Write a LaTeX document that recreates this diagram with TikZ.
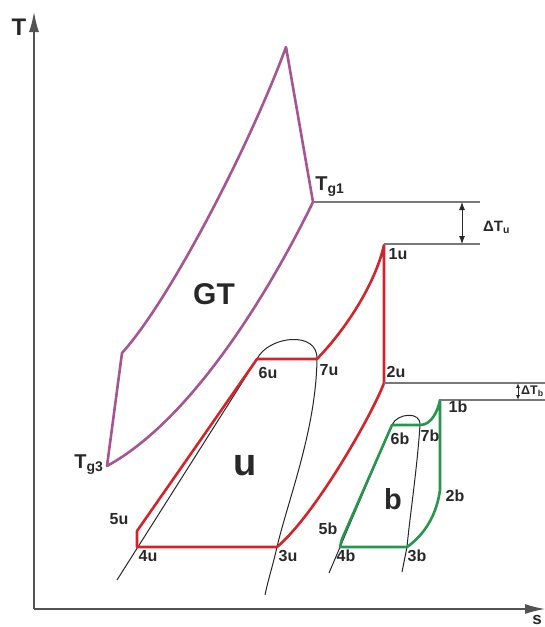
\documentclass[tikz,border=0pt]{standalone}
\usepackage{fontspec}
\setmainfont{Liberation Sans}
\usepackage{tikz}
\usetikzlibrary{arrows.meta}

\definecolor{gtcol}{RGB}{165,85,145}
\definecolor{ucol}{RGB}{212,36,42}
\definecolor{bcol}{RGB}{38,150,76}
\definecolor{txt}{RGB}{40,40,40}
\definecolor{lin}{RGB}{120,120,120}

\begin{document}
\begin{tikzpicture}[
  x=1pt, y=-1pt,
  lab/.style={font=\fontsize{16}{16}\bfseries\selectfont, text=txt, inner sep=0pt},
  big/.style={font=\fontsize{30}{30}\bfseries\selectfont, text=txt, inner sep=0pt},
  cyc/.style={line width=2.6pt, line join=round},
  sat/.style={black!85, line width=1pt},
  axis/.style={txt!80, line width=1.4pt, -{Latex[length=20pt,width=10pt]}},
  lvl/.style={lin, line width=1.1pt},
  dbl/.style={txt, line width=0.9pt, {Latex[length=8pt,width=6pt]}-{Latex[length=8pt,width=6pt]}},
]
\useasboundingbox (0,0) rectangle (545,627);

\coordinate (o) at (34,609);
\coordinate (ttip) at (34,12);
\coordinate (stip) at (545,609);
\draw[axis] (o) -- (ttip);
\draw[axis] (o) -- (stip);
\node[font=\fontsize{24}{24}\bfseries\selectfont, text=txt, inner sep=0pt] (tlab) at (19,27) {T};
\node[font=\fontsize{17}{17}\bfseries\selectfont, text=txt, inner sep=0pt, anchor=north] (slab) at (537,615) {s};

\coordinate (g1) at (313,202);
\coordinate (g3) at (107,466);
\coordinate (g0) at (122,353);
\coordinate (gtop) at (286,47);
\draw[cyc, gtcol] (g1) .. controls (280,270) and (200,415) .. (g3) -- (g0)
  .. controls (170,300) and (250,145) .. (gtop) -- cycle;

\coordinate (u1) at (384,245);
\coordinate (u2) at (384,383);
\coordinate (u3) at (277,547);
\coordinate (u4) at (137,547);
\coordinate (u5) at (137,531);
\coordinate (u6) at (257,359);
\coordinate (u7) at (317,359);
\coordinate (ul) at (117,580);
\coordinate (ur) at (265,595);
\draw[sat] (ul) -- (u6) .. controls (268,336) and (318,330) .. (u7)
  .. controls (316,430) and (288,500) .. (u3) .. controls (273,565) and (268,580) .. (ur);
\draw[cyc, ucol] (u7) .. controls (345,330) and (375,285) .. (u1) -- (u2)
  .. controls (372,415) and (315,515) .. (u3) -- (u4) -- (u5) -- (u6) -- cycle;

\coordinate (b1) at (440,400);
\coordinate (b2) at (440,490);
\coordinate (b3) at (407,547);
\coordinate (b4) at (340,547);
\coordinate (b5) at (342,539);
\coordinate (b6) at (392,425);
\coordinate (b7) at (420,425);
\coordinate (bl) at (329,573);
\coordinate (br) at (402,572);
\draw[sat] (bl) -- (b6) .. controls (397,413) and (421,411) .. (b7)
  .. controls (417,470) and (410,515) .. (b3) -- (br);
\draw[cyc, bcol] (b7) .. controls (432,425) and (438,410) .. (b1) -- (b2)
  .. controls (436,520) and (420,538) .. (b3) -- (b4) -- (b5) -- (b6) -- cycle;

\coordinate (gu) at (480,202);
\coordinate (uu) at (480,244);
\coordinate (ub) at (545,383);
\coordinate (bb) at (545,400);
\draw[lvl] (g1) -- (gu);
\draw[lvl] (u1 |- uu) -- (uu);
\draw[lvl] (u2) -- (ub);
\draw[lvl] (b1) -- (bb);
\coordinate (du1) at (462,202);
\coordinate (du2) at (462,244);
\coordinate (db1) at (518,383);
\coordinate (db2) at (518,400);
\draw[dbl] (du1) -- (du2);
\draw[dbl, {Latex[length=5pt,width=4pt]}-{Latex[length=5pt,width=4pt]}] (db1) -- (db2);
\node[font=\fontsize{15}{15}\bfseries\selectfont, text=txt, inner sep=0pt, anchor=west] (dtu) at (483,227) {ΔT\textsubscript{u}};
\node[font=\fontsize{12.5}{12.5}\bfseries\selectfont, text=txt, inner sep=0pt, anchor=west] (dtb) at (521,391) {ΔT\textsubscript{b}};

\node[font=\fontsize{20}{20}\bfseries\selectfont, text=txt, inner sep=0pt] (tg1) at (330,187) {T\textsubscript{g1}};
\node[font=\fontsize{20}{20}\bfseries\selectfont, text=txt, inner sep=0pt] (tg3) at (89,465) {T\textsubscript{g3}};
\node[big] (gt) at (214,294) {GT};
\node[big, font=\fontsize{38}{38}\bfseries\selectfont] (ulab) at (245,466) {u};
\node[big, font=\fontsize{29}{29}\bfseries\selectfont] (blab) at (393,499) {b};

\node[lab] (l1u) at (398,254) {1u};
\node[lab] (l2u) at (396,372) {2u};
\node[lab] (l3u) at (288,556) {3u};
\node[lab] (l4u) at (148,556) {4u};
\node[lab] (l5u) at (119,519) {5u};
\node[lab] (l6u) at (268,373) {6u};
\node[lab] (l7u) at (329,370) {7u};
\node[lab] (l1b) at (458,407) {1b};
\node[lab] (l2b) at (455,496) {2b};
\node[lab] (l3b) at (417,556) {3b};
\node[lab] (l4b) at (346,556) {4b};
\node[lab] (l5b) at (328,529) {5b};
\node[lab] (l6b) at (400,439) {6b};
\node[lab] (l7b) at (430,436) {7b};
\end{tikzpicture}
\end{document}
